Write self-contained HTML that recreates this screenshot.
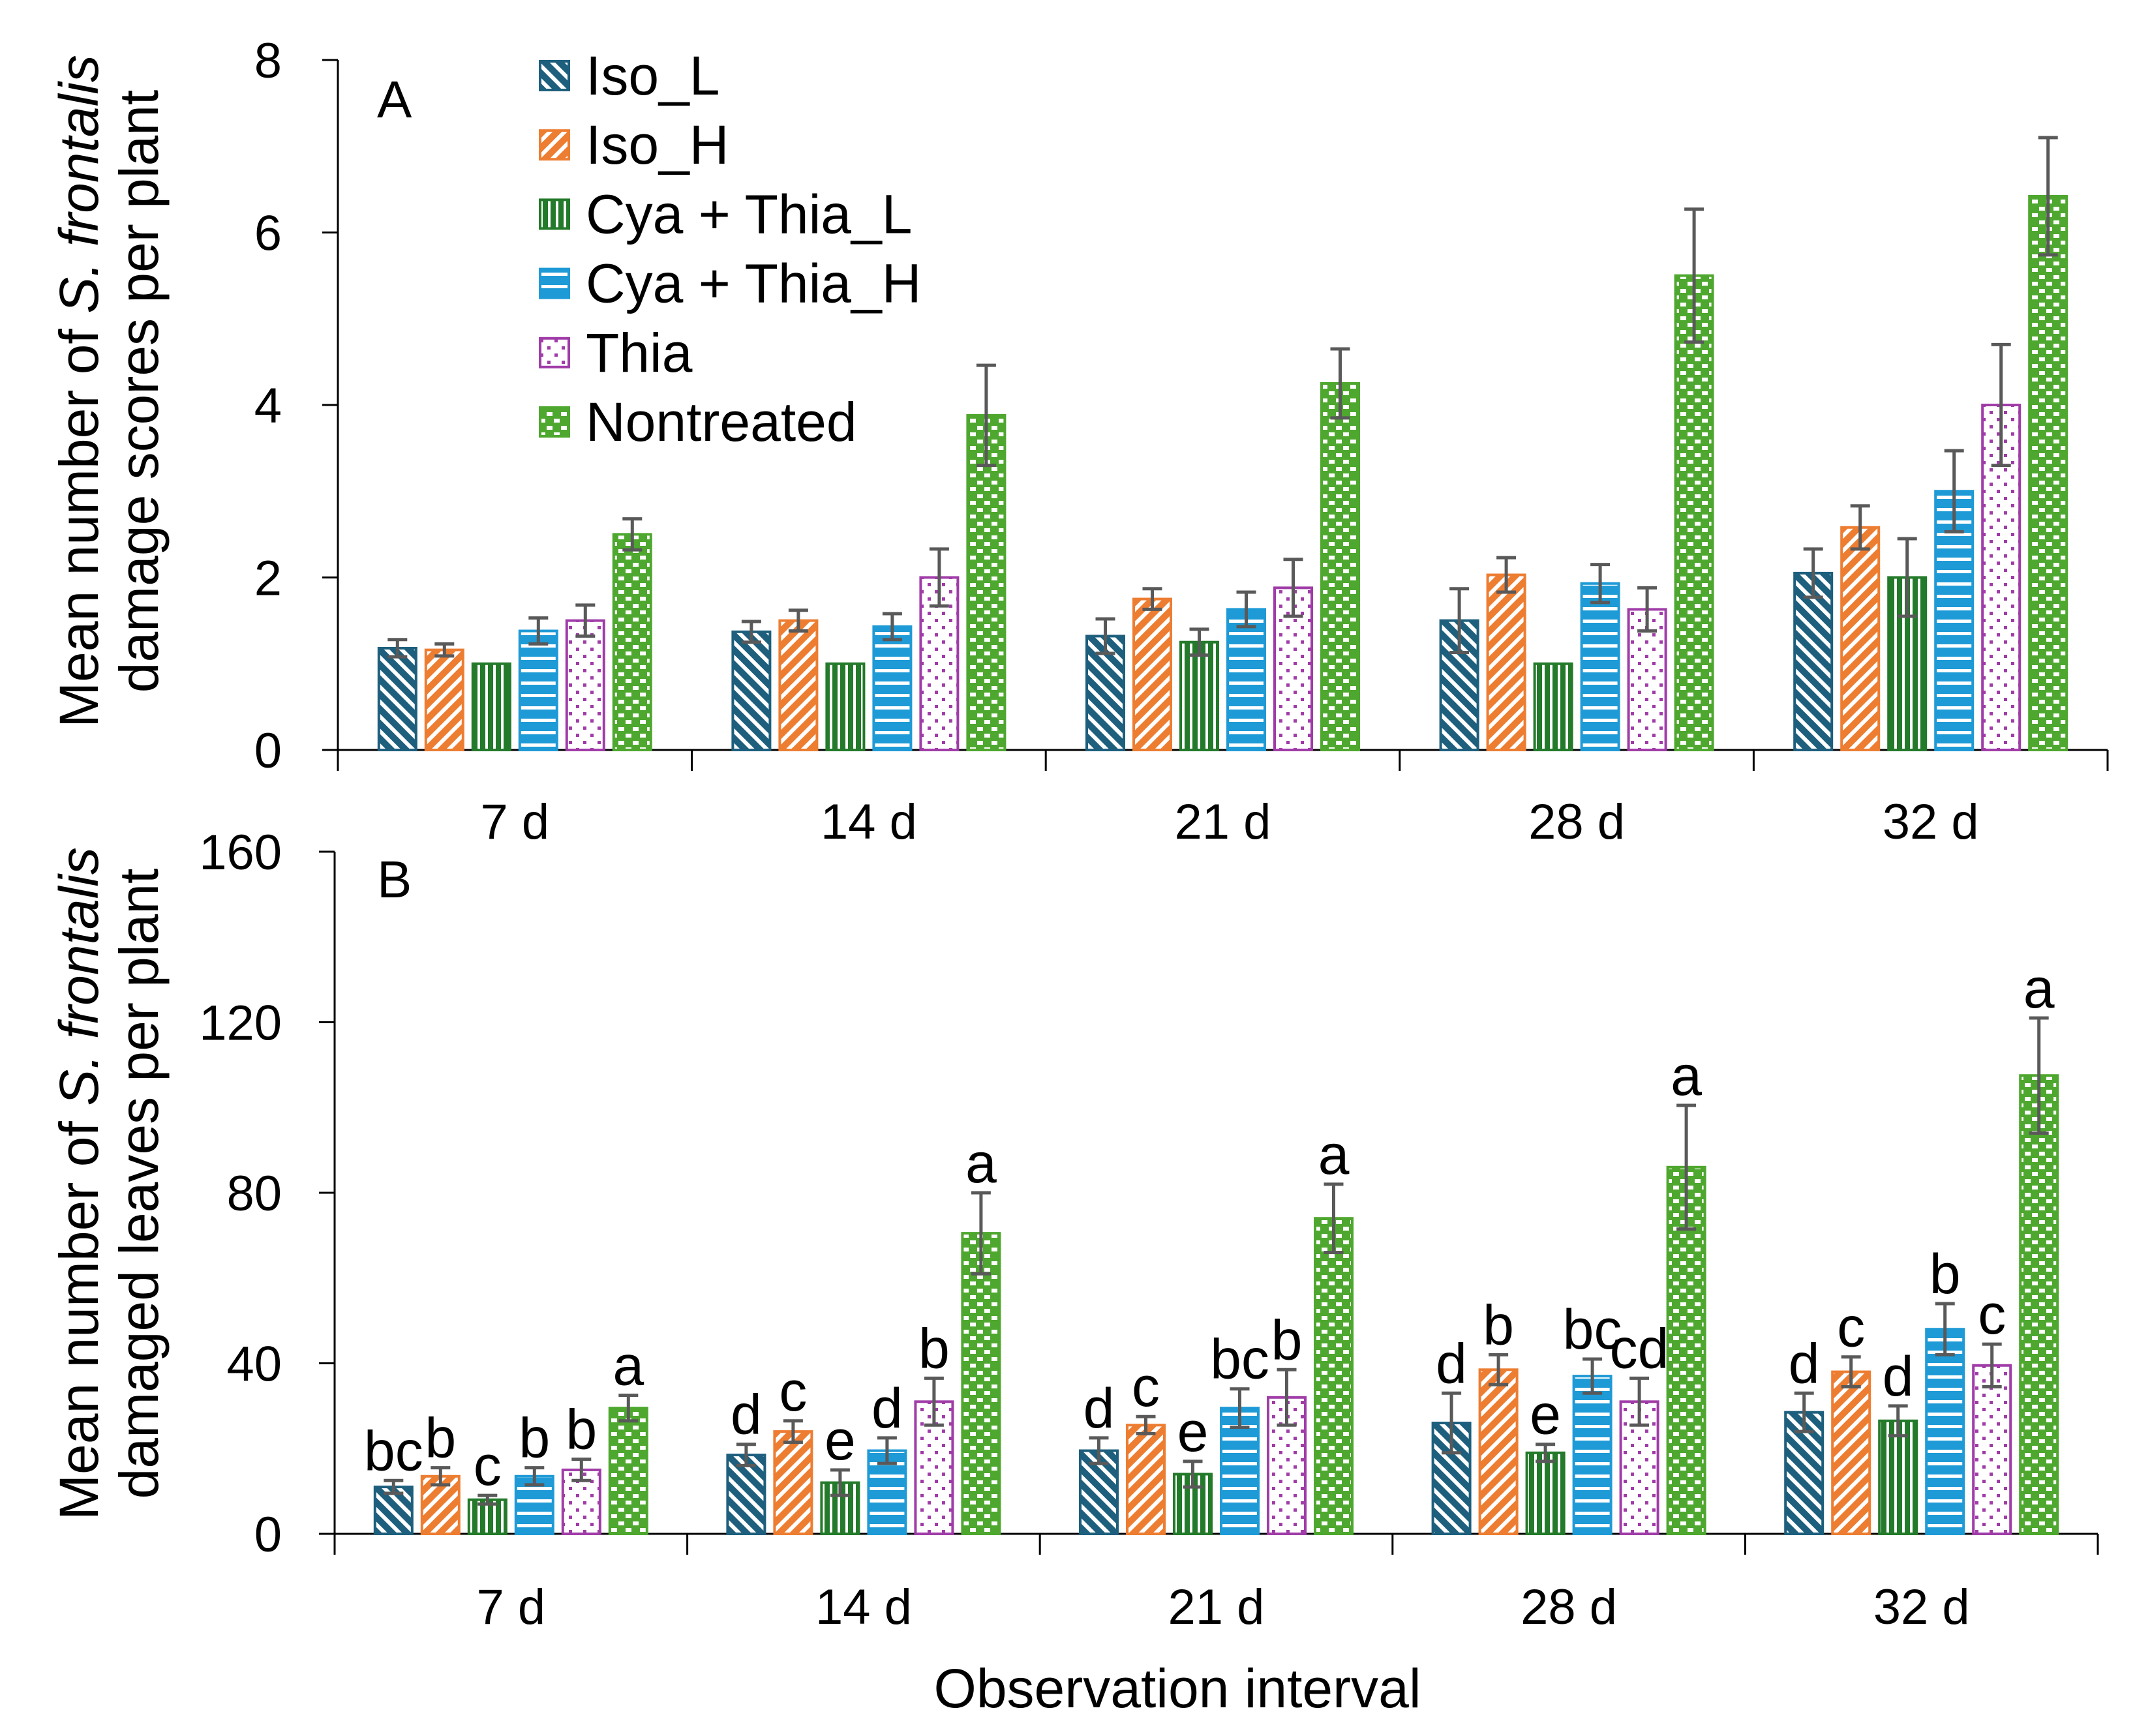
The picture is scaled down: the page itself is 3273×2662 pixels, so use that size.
<!DOCTYPE html>
<html><head><meta charset="utf-8">
<style>
html,body{margin:0;padding:0;background:#fff;}
svg{display:block;font-family:"Liberation Sans",Arial,sans-serif;}
</style></head>
<body>
<svg id="chart" width="3273" height="2662" viewBox="0 0 3273 2662" xmlns="http://www.w3.org/2000/svg">
<defs>
<pattern id="p0" patternUnits="userSpaceOnUse" width="16" height="16" patternTransform="rotate(-45)">
<rect width="16" height="16" fill="#1d5f7d"/><rect x="0" y="0" width="6" height="16" fill="#fff"/></pattern>
<pattern id="p1" patternUnits="userSpaceOnUse" width="16" height="16" patternTransform="rotate(45)">
<rect width="16" height="16" fill="#ed7d31"/><rect x="0" y="0" width="6" height="16" fill="#fff"/></pattern>
<pattern id="p2" patternUnits="userSpaceOnUse" width="12" height="12">
<rect width="12" height="12" fill="#237a2a"/><rect x="0" y="0" width="4" height="12" fill="#fff"/></pattern>
<pattern id="p3" patternUnits="userSpaceOnUse" width="12" height="19">
<rect width="12" height="19" fill="#1e9ad6"/><rect x="0" y="0" width="12" height="5" fill="#fff"/></pattern>
<pattern id="p4" patternUnits="userSpaceOnUse" width="22" height="22">
<rect width="22" height="22" fill="#fff"/><rect x="3" y="3" width="5" height="5" fill="#a03ca8"/><rect x="14" y="14" width="5" height="5" fill="#a03ca8"/></pattern>
<pattern id="p5" patternUnits="userSpaceOnUse" width="22" height="21">
<rect width="22" height="21" fill="#4ea72e"/><rect x="2" y="2" width="9" height="6" fill="#fff"/><rect x="13" y="12" width="9" height="6" fill="#fff"/></pattern>
</defs>
<g id="root"></g>
</svg>
<script>
const categories = ["7 d","14 d","21 d","28 d","32 d"];
const seriesNames = ["Iso_L","Iso_H","Cya + Thia_L","Cya + Thia_H","Thia","Nontreated"];
// Panel A: mean damage scores [series][category]
const aIsoL = [1.18,1.37,1.32,1.5,2.05];
const aIsoH = [1.16,1.5,1.75,2.03,2.58];
const aCyaL = [1.0,1.0,1.25,1.0,2.0];
const aCyaH = [1.38,1.43,1.63,1.93,3.0];
const aThia = [1.5,2.0,1.88,1.63,4.0];
const aNon  = [2.5,3.88,4.25,5.5,6.42];
const aIsoLErr = [0.1,0.12,0.2,0.37,0.28];
const aIsoHErr = [0.07,0.12,0.12,0.2,0.25];
const aCyaLErr = [0,0,0.15,0,0.45];
const aCyaHErr = [0.15,0.15,0.2,0.22,0.47];
const aThiaErr = [0.18,0.33,0.33,0.25,0.7];
const aNonErr  = [0.18,0.58,0.4,0.77,0.68];
const aTicks = [0,2,4,6,8];
// Panel B: mean damaged leaves
const bIsoL = [11,18.5,19.5,26,28.5];
const bIsoH = [13.5,24,25.5,38.5,38];
const bCyaL = [8,12,14,19,26.5];
const bCyaH = [13.5,19.5,29.5,37,48];
const bThia = [15,31,32,31,39.5];
const bNon  = [29.5,70.5,74,86,107.5];
const bIsoLErr = [1.5,2.5,3,7,4.5];
const bIsoHErr = [2,2.5,2,3.5,3.5];
const bCyaLErr = [1,3,3,2,3.5];
const bCyaHErr = [2,3,4.5,4,6];
const bThiaErr = [2.5,5.5,6.5,5.5,5];
const bNonErr  = [3,9.5,8,14.5,13.5];
const bLetters = [["bc","d","d","d","d"],["b","c","c","b","c"],["c","e","e","e","d"],["b","d","bc","bc","b"],["b","b","b","cd","c"],["a","a","a","a","a"]];
const bTicks = [0,40,80,120,160];

const NS="http://www.w3.org/2000/svg";
const root=document.getElementById('root');
function mk(tag,attrs,parent,text){const e=document.createElementNS(NS,tag);for(const k in attrs)e.setAttribute(k,attrs[k]);if(text!==undefined)e.textContent=text;(parent||root).appendChild(e);return e;}
const strokes=["#1d5f7d","#ed7d31","#237a2a","#1e9ad6","#a03ca8","#4ea72e"];

function panel(cfg){
  const g=mk('g',{});
  
  
  const x0=cfg.x0, catW=cfg.catW, yTop=cfg.yTop, yBot=cfg.yBot, max=cfg.max;
  const yS=v=>yBot-(v/max)*(yBot-yTop);
  const xEnd=x0+catW*categories.length;
  const ya=mk('line',{x1:x0,y1:yTop,x2:x0,y2:yBot+32,stroke:'#000','stroke-width':3},g);
  
  const xa=mk('line',{x1:x0-24,y1:yBot,x2:xEnd,y2:yBot,stroke:'#000','stroke-width':3},g);
  
  cfg.ticks.forEach(t=>{
    const y=yS(t);
    mk('line',{x1:x0-24,y1:y,x2:x0,y2:y,stroke:'#000','stroke-width':3},g);
    const tl=mk('text',{x:432,y:y+27,'text-anchor':'end','font-size':76},g,String(t));
    
  });
  for(let i=1;i<=categories.length;i++){
    mk('line',{x1:x0+catW*i,y1:yBot,x2:x0+catW*i,y2:yBot+32,stroke:'#000','stroke-width':3},g);
  }
  categories.forEach((c,i)=>{
    const t=mk('text',{x:x0+catW*(i+0.5),y:cfg.catLabelY,'text-anchor':'middle','font-size':76},g,c);
    
  });
  const pitch=72, bw=57;
  cfg.vals.forEach((arr,s)=>{
    arr.forEach((v,i)=>{
      const cx=x0+catW*(i+0.5);
      const bx=cx-(5*pitch+bw)/2+s*pitch;
      const yv=yS(v);
      const r=mk('rect',{x:bx,y:yv,width:bw,height:yBot-yv,fill:'url(#p'+s+')',stroke:strokes[s],'stroke-width':4},g);
      
      
      const e=cfg.errs[s][i];
      const mx=bx+bw/2;
      if(e>0){
        const yh=yS(v+e), yl=yS(v-e);
        const eb=mk('path',{d:`M${mx},${yh}V${yl}M${mx-15},${yh}H${mx+15}M${mx-15},${yl}H${mx+15}`,stroke:'#595959','stroke-width':5,fill:'none'},g);
        
      }
      if(cfg.letters){
        const lt=mk('text',{x:mx,y:yS(v+e)-16,'text-anchor':'middle','font-size':86},g,cfg.letters[s][i]);
        
      }
    });
  });
  const pl=mk('text',{x:578,y:cfg.labelY,'font-size':80},g,cfg.label);
  
  const tt=mk('text',{transform:`translate(${cfg.titleX},${cfg.titleY}) rotate(-90)`,'text-anchor':'middle','font-size':84},g);
  
  mk('tspan',{x:0,y:0},tt,'Mean number of ');
  mk('tspan',{'font-style':'italic'},tt,'S. frontalis');
  mk('tspan',{x:0,y:92},tt,cfg.title2);
}

panel({name:'panel-a',x0:518,catW:542.6,yTop:92,yBot:1150,max:8,ticks:aTicks,
  vals:[aIsoL,aIsoH,aCyaL,aCyaH,aThia,aNon],errs:[aIsoLErr,aIsoHErr,aCyaLErr,aCyaHErr,aThiaErr,aNonErr],
  catLabelY:1286,label:'A',labelY:180,titleX:150,titleY:600,title2:'damage scores per plant'});
panel({name:'panel-b',x0:513,catW:540.6,yTop:1306,yBot:2352,max:160,ticks:bTicks,
  vals:[bIsoL,bIsoH,bCyaL,bCyaH,bThia,bNon],errs:[bIsoLErr,bIsoHErr,bCyaLErr,bCyaHErr,bThiaErr,bNonErr],letters:bLetters,
  catLabelY:2490,label:'B',labelY:1376,titleX:150,titleY:1815,title2:'damaged leaves per plant'});

const xt=mk('text',{x:1805,y:2618,'text-anchor':'middle','font-size':84},root,'Observation interval');


const lg=mk('g',{});


seriesNames.forEach((n,s)=>{
  const cy=116+s*106.2;
  const sw=mk('rect',{x:828,y:cy-22,width:44,height:44,fill:'url(#p'+s+')',stroke:strokes[s],'stroke-width':4},lg);
  
  const t=mk('text',{x:898,y:cy+29,'font-size':84},lg,n);
  
});
</script>
</body></html>
